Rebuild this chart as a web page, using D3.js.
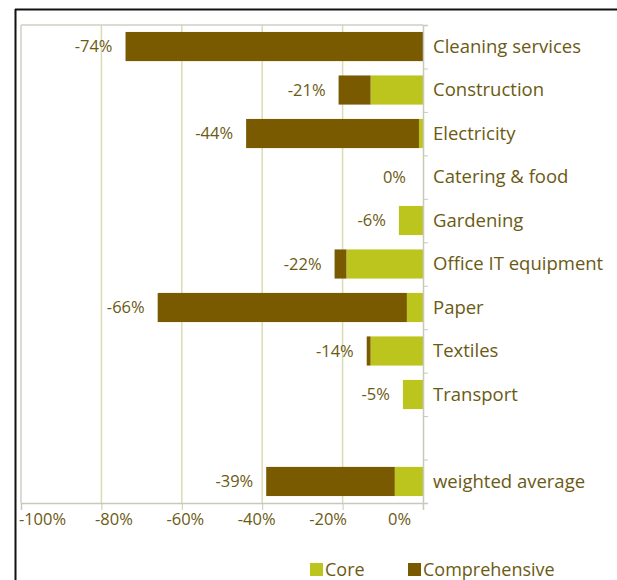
<!DOCTYPE html>
<html>
<head>
<meta charset="utf-8">
<script src="https://cdn.jsdelivr.net/npm/d3@7"></script>
<style>
  body { margin: 0; background: #fff; }
  text { font-family: "Open Sans", sans-serif; fill: #6b5a14; }
</style>
</head>
<body>
<script>
// categories top to bottom ("" is the empty gap row)
var categories = ["Cleaning services", "Construction", "Electricity", "Catering & food",
    "Gardening", "Office IT equipment", "Paper", "Textiles", "Transport", "", "weighted average"];
// core reduction (%)
var core = [0, -13, -1, 0, -6, -19, -4, -13, -5, null, -7];
// extra reduction of the comprehensive criteria on top of core (%)
var comprehensive = [-74, -8, -43, 0, 0, -3, -62, -1, 0, null, -32];
var totalLabels = ["-74%", "-21%", "-44%", "0%", "-6%", "-22%", "-66%", "-14%", "-5%", "", "-39%"];
var xTicks = [-100, -80, -60, -40, -20, 0];
var legendNames = ["Core", "Comprehensive"];

function init() {
    var w = 617, h = 580;
    var colCore = "#bcc41e", colComp = "#7a5a00";

    var svg = d3.select("body").append("svg")
        .attr("width", w)
        .attr("height", h);

    // frame
    svg.append("line").attr("x1", 15).attr("x2", w).attr("y1", 9.5).attr("y2", 9.5)
        .attr("stroke", "#111").attr("stroke-width", 2);
    svg.append("line").attr("x1", 15.5).attr("x2", 15.5).attr("y1", 9).attr("y2", h)
        .attr("stroke", "#111").attr("stroke-width", 2);

    var left = 21, right = 423, top = 25, bottom = 503;

    var x = d3.scaleLinear().domain([-100, 0]).range([left, right]);
    var y = d3.scaleBand().domain(d3.range(categories.length)).range([top, bottom]).paddingInner(0.33).paddingOuter(0.16);

    // grid
    svg.selectAll(".grid")
        .data(xTicks.slice(1, 5))
        .enter().append("line")
        .attr("x1", function(d) { return x(d); })
        .attr("x2", function(d) { return x(d); })
        .attr("y1", top).attr("y2", bottom)
        .attr("stroke", "#dcdcb4").attr("stroke-width", 1.5);

    // plot borders
    svg.append("line").attr("x1", left).attr("x2", right).attr("y1", top).attr("y2", top)
        .attr("stroke", "#cfcfc4").attr("stroke-width", 1.5);
    svg.append("line").attr("x1", left).attr("x2", left).attr("y1", top).attr("y2", bottom)
        .attr("stroke", "#cfcfc4").attr("stroke-width", 1.5);

    // bars: core next to zero, comprehensive extends further
    var rows = categories.map(function(c, i) { return i; }).filter(function(i) { return core[i] !== null; });

    svg.selectAll(".comp")
        .data(rows)
        .enter().append("rect")
        .attr("x", function(i) { return x(core[i] + comprehensive[i]); })
        .attr("y", function(i) { return y(i); })
        .attr("width", function(i) { return x(core[i]) - x(core[i] + comprehensive[i]); })
        .attr("height", y.bandwidth())
        .attr("fill", colComp);

    svg.selectAll(".core")
        .data(rows)
        .enter().append("rect")
        .attr("x", function(i) { return x(core[i]); })
        .attr("y", function(i) { return y(i); })
        .attr("width", function(i) { return x(0) - x(core[i]); })
        .attr("height", y.bandwidth())
        .attr("fill", colCore);

    // value labels
    svg.selectAll(".val")
        .data(rows)
        .enter().append("text")
        .attr("x", function(i) { return x(core[i] + comprehensive[i]) - (core[i] + comprehensive[i] === 0 ? 17 : 13); })
        .attr("y", function(i) { return y(i) + y.bandwidth() / 2; })
        .attr("dy", "0.35em")
        .attr("text-anchor", "end")
        .style("font-size", "16.5px")
        .text(function(i) { return totalLabels[i]; });

    // right axis with category names
    var yAxis = d3.axisRight(d3.scaleLinear().domain([0, categories.length]).range([top, bottom]))
        .ticks(categories.length)
        .tickSize(5)
        .tickFormat("");
    var ya = svg.append("g").attr("transform", "translate(" + right + ",0)").call(yAxis);
    ya.select(".domain").attr("stroke", "#c8c8bc").attr("stroke-width", 1.5);
    ya.selectAll(".tick line").attr("stroke", "#c8c8bc");

    svg.selectAll(".cat")
        .data(categories)
        .enter().append("text")
        .attr("x", right + 10)
        .attr("y", function(d, i) { return y(i) + y.bandwidth() / 2; })
        .attr("dy", "0.35em")
        .style("font-size", "18.5px")
        .text(function(d) { return d; });

    // bottom axis
    var xAxis = d3.axisBottom(x).tickValues(xTicks).tickSize(7)
        .tickFormat(function(d) { return d + "%"; });
    var xa = svg.append("g").attr("transform", "translate(0," + bottom + ")").call(xAxis);
    xa.select(".domain").attr("stroke", "#c8c8bc").attr("stroke-width", 1.5);
    xa.selectAll(".tick line").attr("stroke", "#c8c8bc");
    // tick labels sit spread out in the original
    var labelX = d3.scaleLinear().domain([-100, 0]).range([42, 399]);
    xa.selectAll(".tick text")
        .attr("transform", function(d) { return "translate(" + (labelX(d) - x(d)) + ",0)"; })
        .attr("fill", "#6b5a14")
        .style("font-family", "'Open Sans', sans-serif")
        .style("font-size", "16.5px");

    // legend
    var legX = [310, 408];
    var leg = svg.selectAll(".leg")
        .data(legendNames)
        .enter().append("g")
        .attr("transform", function(d, i) { return "translate(" + legX[i] + ",563)"; });
    leg.append("rect").attr("width", 13).attr("height", 13)
        .attr("fill", function(d, i) { return i === 0 ? colCore : colComp; });
    leg.append("text").attr("x", 15).attr("y", 7).attr("dy", "0.35em")
        .style("font-size", "18px")
        .text(function(d) { return d; });
}
window.onload = init;
</script>
</body>
</html>
